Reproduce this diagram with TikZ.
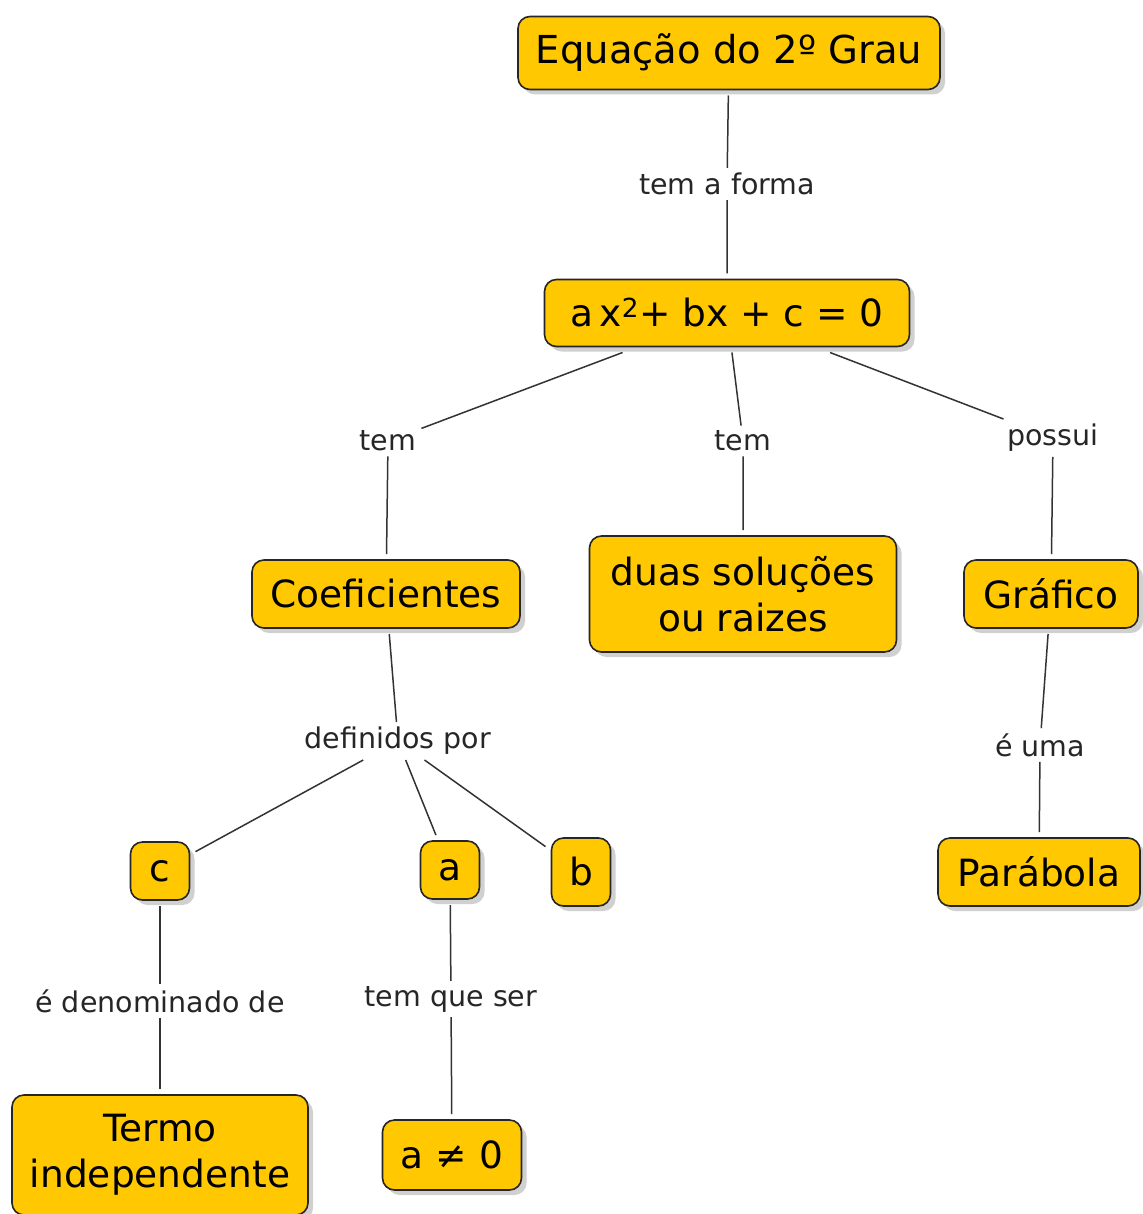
\documentclass[tikz,border=0pt]{standalone}
\usepackage{fontspec}
\setmainfont{DejaVu Sans}
\usetikzlibrary{shadows}
\definecolor{amarelo}{RGB}{255,200,0}

\begin{document}
\begin{tikzpicture}[x=1pt,y=-1pt,
    conceito/.style={draw=black!85, line width=1.6pt, fill=amarelo, rounded corners=12pt,
      align=center, inner sep=0pt, outer sep=6pt, minimum height=68pt,
      font=\fontsize{37.5}{46}\selectfont,
      drop shadow={shadow xshift=5pt, shadow yshift=-5pt, fill=black!30, opacity=.6}},
    ligacao/.style={font=\fontsize{28.5}{32}\selectfont, text=black!85, inner sep=5pt},
    linha/.style={line width=1.5pt, draw=black!80}]
  \fill[white] (0,0) rectangle (1142,1214);
  \useasboundingbox (0,0) rectangle (1142,1214);

  % conceitos
  \node[conceito, minimum width=422pt, minimum height=73pt, font=\fontsize{38.5}{46}\selectfont] (grau) at (729,53) {Equação do 2º Grau};
  \node[conceito, minimum width=365pt, minimum height=67pt] (forma) at (727,313) {a\,x\textsuperscript{2}+ bx + c = 0};
  \node[conceito, minimum width=268pt] (coef) at (386,594) {Coeficientes};
  \node[conceito, minimum width=307pt, minimum height=116pt] (raizes) at (743,594) {duas soluções\\ou raizes};
  \node[conceito, minimum width=174pt] (grafico) at (1051,594) {Gráfico};
  \node[conceito, minimum width=59pt, minimum height=58pt] (c) at (160,871) {c};
  \node[conceito, minimum width=59pt, minimum height=58pt] (a) at (450,870) {a};
  \node[conceito, minimum width=59pt] (b) at (581,872) {b};
  \node[conceito, minimum width=202pt] (parabola) at (1039,872) {Parábola};
  \node[conceito, minimum width=296pt, minimum height=120pt] (termo) at (160,1155) {Termo\\independente};
  \node[conceito, minimum width=139pt, minimum height=70pt] (naozero) at (452,1155) {a ≠ 0};

  % frases de ligacao
  \node[ligacao] (temforma) at (727,184) {tem a forma};
  \node[ligacao] (tem1) at (388,441) {tem};
  \node[ligacao] (tem2) at (743,441) {tem};
  \node[ligacao] (possui) at (1053,438) {possui};
  \node[ligacao] (definidos) at (398,741) {definidos por};
  \node[ligacao] (euma) at (1040,745) {é uma};
  \node[ligacao] (denominado) at (160,1001) {é denominado de};
  \node[ligacao] (temque) at (451,999) {tem que ser};

  % ligacoes
  \draw[linha] (grau) -- (temforma) -- (forma);
  \draw[linha] (forma) -- (tem1) -- (coef);
  \draw[linha] (forma) -- (tem2) -- (raizes);
  \draw[linha] (forma) -- (possui) -- (grafico);
  \draw[linha] (coef) -- (definidos);
  \draw[linha] (definidos) -- (c);
  \draw[linha] (definidos) -- (a);
  \draw[linha] (definidos) -- (b);
  \draw[linha] (grafico) -- (euma) -- (parabola);
  \draw[linha] (c) -- (denominado) -- (termo);
  \draw[linha] (a) -- (temque) -- (naozero);
\end{tikzpicture}
\end{document}
